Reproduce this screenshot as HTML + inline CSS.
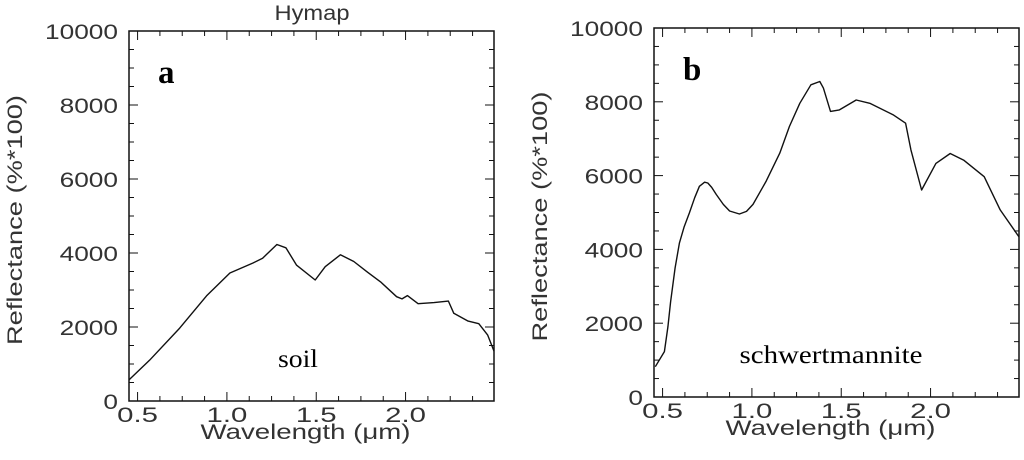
<!DOCTYPE html>
<html><head><meta charset="utf-8"><style>
body{margin:0;background:#fff;width:1024px;height:455px;overflow:hidden}
svg text{font-family:"Liberation Sans",sans-serif;fill:#333}
</style></head><body>
<svg id="s" width="1024" height="455" xmlns="http://www.w3.org/2000/svg"></svg>
<script>
const xTicks=[0.5,1.0,1.5,2.0];
const xTickLabels=["0.5","1.0","1.5","2.0"];
const yTicks=[0,2000,4000,6000,8000,10000];
const yTickLabels=["0","2000","4000","6000","8000","10000"];
const soilWl=[0.452,0.567,0.736,0.886,1.017,1.146,1.2,1.28,1.33,1.39,1.494,1.55,1.635,1.71,1.785,1.86,1.95,1.98,2.01,2.07,2.16,2.24,2.27,2.35,2.41,2.46,2.495];
const soilVal=[570,1100,1970,2840,3460,3730,3860,4230,4140,3670,3270,3630,3950,3770,3490,3220,2820,2760,2850,2630,2660,2700,2370,2160,2090,1780,1350];
const schWl=[0.459,0.51,0.53,0.545,0.57,0.594,0.62,0.65,0.68,0.706,0.735,0.753,0.775,0.80,0.84,0.875,0.93,0.97,1.006,1.08,1.156,1.21,1.268,1.33,1.38,1.40,1.44,1.49,1.584,1.66,1.79,1.86,1.89,1.95,2.03,2.11,2.185,2.30,2.39,2.495];
const schVal=[820,1230,1900,2580,3500,4170,4600,4990,5400,5710,5820,5800,5680,5490,5220,5040,4960,5030,5220,5850,6610,7330,7960,8460,8550,8370,7740,7780,8050,7960,7650,7420,6700,5610,6330,6600,6420,5970,5070,4340];
const NS="http://www.w3.org/2000/svg",S=document.getElementById('s');
function mk(t,a,p,txt){const e=document.createElementNS(NS,t);for(const k in a)e.setAttribute(k,a[k]);if(txt!==undefined)e.textContent=txt;(p||S).appendChild(e);return e;}
function panel(L,R,T,B,wl,val,name,letter,label,lx,lw,title){
  const g=mk('g',{});
  
  
  const x0=0.452,x1=2.495;
  const X=v=>L+(v-x0)/(x1-x0)*(R-L), Y=v=>B-v/10000*(B-T);
  const box=mk('rect',{x:L,y:T,width:R-L,height:B-T,fill:'none',stroke:'#111','stroke-width':1.5},g);
  
  for(let v=0.5;v<=2.45;v+=0.125){const maj=Math.abs(v*2-Math.round(v*2))<1e-6,l=maj?9:5;
    mk('line',{x1:X(v),x2:X(v),y1:B,y2:B-l,stroke:'#111'},g);mk('line',{x1:X(v),x2:X(v),y1:T,y2:T+l,stroke:'#111'},g);}
  for(let v=0;v<=10000;v+=500){const maj=v%2000==0,l=maj?9:5;
    mk('line',{x1:L,x2:L+l,y1:Y(v),y2:Y(v),stroke:'#111'},g);mk('line',{x1:R,x2:R-l,y1:Y(v),y2:Y(v),stroke:'#111'},g);}
  xTicks.forEach((v,i)=>{const s=xTickLabels[i];const t=mk('text',{x:X(v)-s.length*6.8,y:B+21,'font-size':21,textLength:s.length*13.6,lengthAdjust:'spacingAndGlyphs'},g,s);
    });
  yTicks.forEach((v,i)=>{const s=yTickLabels[i];const t=mk('text',{x:L-11-s.length*14.6,y:Y(v)+8,'font-size':21,textLength:s.length*14.6,lengthAdjust:'spacingAndGlyphs'},g,s);
    });
  const xc=(L+R)/2-6;
  const xt=mk('text',{x:xc-105,y:B+38,'font-size':21,textLength:210,lengthAdjust:'spacingAndGlyphs'},g,'Wavelength (μm)');
  
  const yx=L-107,yy=(T+B)/2+4;
  const yt=mk('text',{x:yx-125,y:yy,'font-size':21,textLength:250,lengthAdjust:'spacingAndGlyphs',transform:`rotate(-90 ${yx} ${yy})`},g,'Reflectance (%*100)');
  
  if(title){const tt=mk('text',{x:(L+R)/2-37,y:20,'font-size':21,textLength:75,lengthAdjust:'spacingAndGlyphs'},g,title);
    }
  const lt=mk('text',{x:L+29,y:T+52,'font-size':33,'font-weight':'bold',style:'font-family:"Liberation Serif",serif;fill:#000'},g,letter);
  
  const sl=mk('text',{x:lx-lw/2,y:B-34,'font-size':25,textLength:lw,lengthAdjust:'spacingAndGlyphs',style:'font-family:"Liberation Serif",serif;fill:#000'},g,label);
  
  const d=wl.map((w,i)=>(i?'L':'M')+X(w).toFixed(1)+','+Y(val[i]).toFixed(1)).join('');
  const p=mk('path',{d:d,fill:'none',stroke:'#111','stroke-width':1.4,'stroke-linejoin':'round'},g);
  
}
panel(129,494,31,401,soilWl,soilVal,'soil','a','soil',298,40,'Hymap');
panel(654,1019,28,397,schWl,schVal,'schwertmannite','b','schwertmannite',831,183,null);
</script>
</body></html>
